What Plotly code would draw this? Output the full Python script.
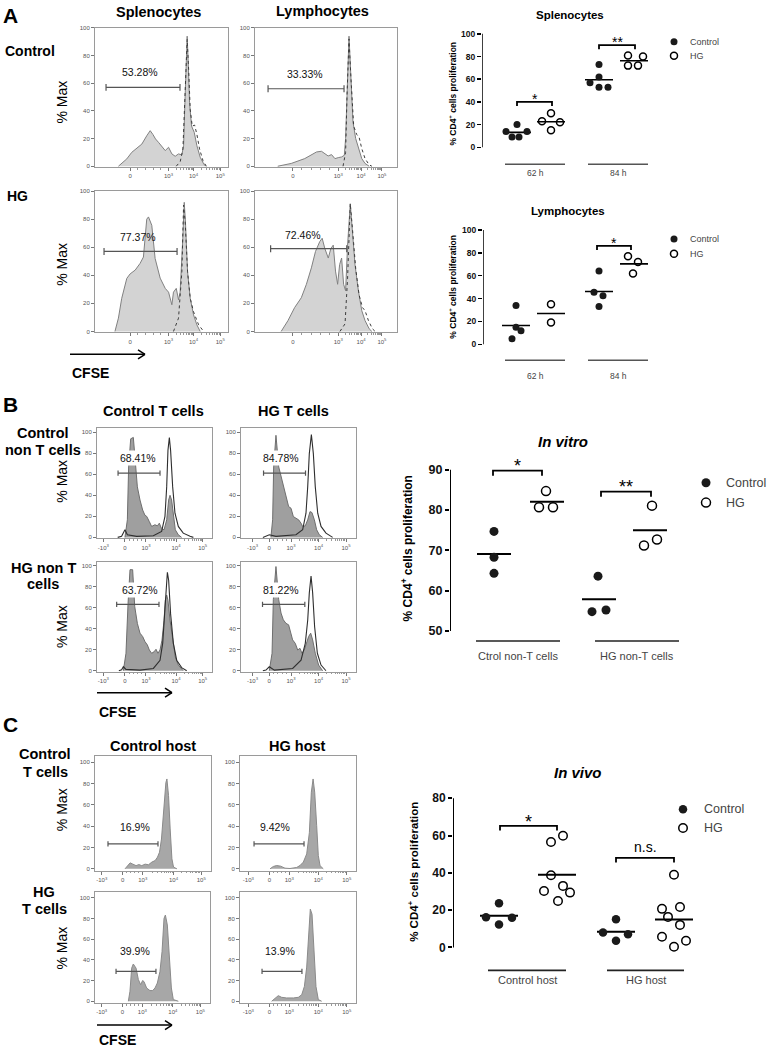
import math
import plotly.graph_objects as go

W, H = 771, 1050
FONT = "Liberation Sans, Arial, sans-serif"

# ================= DATA =================
# Flow cytometry histograms: x = display channel (0-100 across the plot), y = % Max
A11_fill_x = [17.6, 21.4, 23.9, 27.6, 31.4, 35.2, 38.9, 41.5, 43.5, 45.5, 47.7, 50.3, 52.8, 55.3, 57.8, 60.3, 62.8, 65.3, 66.6, 67.6, 68.6, 69.3, 70.1, 71.1, 72.6, 74.6, 76.6, 79.1, 81.7, 83.2]
A11_fill_y = [0, 2.9, 5.3, 10, 13, 16, 22, 25.7, 23, 19.7, 17.3, 14.4, 11.3, 13.7, 8.9, 7.2, 8.9, 8.2, 14.9, 46, 82, 94, 75, 46, 29, 24.5, 14.9, 6.5, 1.7, 0]
A11_out_x = [61.1, 64.1, 66.1, 67.3, 68.3, 69.3, 70.4, 71.6, 73.1, 74.9, 76.6, 78.6, 81.2, 83.7]
A11_out_y = [0, 3.4, 12.5, 41, 77, 91.6, 70, 41, 29, 29.7, 23, 12.5, 4, 0]

A12_fill_x = [16, 25.5, 35, 39.7, 43.3, 46.8, 49, 51.5, 53.9, 56.3, 58.6, 61, 62.9, 63.8, 64.8, 66.2, 67.6, 69, 70.9, 72.8, 75.2, 77.5, 80.4]
A12_fill_y = [0, 2, 5.5, 8, 10.3, 10.8, 9, 7.4, 8.4, 5.5, 6.2, 6.7, 7.9, 20, 51, 94, 63, 32, 20, 12.7, 5.5, 2, 0]
A12_out_x = [62, 63.8, 64.8, 66.2, 67.6, 69.5, 71.6, 73.3, 75.2, 77.5, 80.4, 82.3]
A12_out_y = [0, 10, 51, 92, 63, 29, 23, 21, 12.7, 5.5, 1, 0]

A21_fill_x = [15, 17.6, 20.1, 23.9, 26.4, 30.2, 33.9, 36.4, 38.9, 40.2, 42.7, 45.2, 49, 52.8, 55.3, 57.8, 59, 61.1, 62.8, 64, 66, 67.1, 68, 69.6, 71.6, 74.1, 76.6, 79.1]
A21_fill_y = [0, 9.5, 23.6, 37.8, 41, 43.7, 48.5, 53, 80, 81.6, 75.6, 52, 38, 30.7, 28, 19, 28, 30.7, 22.5, 28, 66, 92, 78, 42.5, 23.6, 11.8, 4.7, 0]
A21_out_x = [59, 62.8, 65.3, 66.6, 67.8, 69.6, 71.6, 74.1, 77.9, 81.7]
A21_out_y = [0, 9.5, 42.5, 90, 78, 42.5, 23.6, 14, 4.7, 0]

A22_fill_x = [18.4, 23.2, 27.9, 32.6, 36.2, 39.7, 42.6, 45.6, 47.3, 49.2, 51.6, 53.4, 55.1, 56.7, 58.2, 59.6, 61, 62.4, 63.8, 65.2, 67.1, 68.6, 70.4, 72.8, 75.2, 77.5, 80.4, 82.3]
A22_fill_y = [0, 7.7, 17, 24, 33.6, 45.3, 57, 64, 66.4, 59, 52.3, 59, 61.5, 43, 33.6, 47.7, 52.3, 33.6, 29, 61.5, 91, 73.5, 47.7, 29, 14.8, 7.7, 1.9, 0]
A22_out_x = [59.8, 63.4, 65.2, 67.1, 68.6, 70.9, 73.3, 75.7, 77.5, 79.9, 82.7, 84.6]
A22_out_y = [0, 5.4, 38, 91, 73.5, 45, 26, 17, 14.8, 7.7, 1.9, 0]

B11_fill_x = [24.3, 26.4, 27.5, 29.3, 31.6, 33.3, 35.1, 37.4, 39.7, 41.7, 43.2, 45.5, 47.5, 50.4, 52.5, 54.2, 55.9, 58.3, 60.6, 62.3, 63.5, 64.9, 66.4, 68.1, 70.7, 73.6]
B11_fill_y = [0, 16.7, 67, 93.7, 95, 67, 48, 35.5, 26, 21, 20, 15, 10.4, 12, 11, 13.5, 8.8, 7.2, 16.7, 35.5, 40, 35.5, 20, 7.2, 2.5, 0]
B11_out_x = [18, 21.4, 24.3, 26.4, 34.5, 49, 56.2, 59.1, 60.6, 61.7, 62.9, 64, 65.8, 67.8, 70.7, 75, 80.9, 83.8]
B11_out_y = [0, 1, 7.2, 2.5, 1, 1.6, 5.7, 20, 48, 82.7, 95, 82.7, 48, 23, 10.4, 4, 1, 0]

B12_fill_x = [26, 27.5, 28.4, 30.4, 32.8, 34.8, 36.8, 39.1, 41.4, 43.5, 45.5, 47.8, 50.1, 52.2, 53.6, 55.9, 58, 60, 61.7, 63.8, 65.8, 68.1, 71]
B12_fill_y = [0, 16.7, 67, 97, 67, 57.5, 48, 38.7, 29.3, 27.7, 19.8, 18.2, 16.7, 13.5, 10.4, 11, 16.7, 24.5, 23.6, 16.7, 7.2, 2.5, 0]
B12_out_x = [19, 21.7, 24.6, 30.4, 47.8, 53.6, 56.5, 58, 59.4, 61.2, 62.9, 64.6, 66.7, 69.6, 73.9, 79.7]
B12_out_y = [0, 1, 2.5, 1, 2.5, 7.2, 23, 48, 79.6, 97.8, 79.6, 48, 23, 10.4, 4, 0]

B21_fill_x = [22.9, 25.2, 27, 28.7, 31, 32.8, 35.1, 37.4, 39.7, 41.7, 43.8, 45.5, 47.5, 49.6, 51.3, 53, 54.8, 56.5, 58.3, 59.4, 60.6, 61.7, 63.5, 65.8, 68.1, 70.7, 75]
B21_fill_y = [0, 16.6, 64, 96, 96, 61, 45, 35.7, 32.5, 27.7, 24.5, 19.7, 16.6, 18, 20.4, 16.6, 19.7, 29, 48, 67, 72, 67, 48, 29, 13, 5.4, 0]
B21_out_x = [19, 21.4, 22.9, 25.2, 37.4, 49, 54.8, 57.1, 58.8, 60, 61.2, 62.3, 64, 66.4, 69.3, 73.6, 78]
B21_out_y = [0, 1, 3.8, 1.3, 0.6, 2.2, 10, 26, 54, 80, 93.6, 86, 54, 26, 10, 3, 0]

B22_fill_x = [24.6, 27, 28.1, 30.4, 32.8, 34.8, 36.8, 39.1, 41.4, 43.2, 44.9, 47.2, 49.3, 51.3, 53, 55, 57.1, 58.8, 60.6, 62.3, 64.6, 67.5, 71]
B22_fill_y = [0, 16.6, 67.5, 99, 67.5, 54.8, 48.4, 45, 43.6, 35.7, 29.3, 26, 19.7, 21.3, 16.6, 19.7, 26, 32.5, 35.7, 29.3, 16.6, 5.4, 0]
B22_out_x = [19, 21.7, 24.6, 29, 44.9, 52.2, 55.9, 58, 59.4, 60.9, 62.3, 64, 66.4, 69.6, 73.9]
B22_out_y = [0, 0.6, 3.8, 0.6, 2.2, 10, 26, 48, 74, 90, 74, 42, 16.6, 5.4, 0]

C11_fill_x = [25.9, 28, 30.3, 32.6, 35.4, 37.8, 40.3, 43.2, 46.1, 49, 51.9, 53.9, 55.6, 57.3, 59.1, 61.1, 62, 63.4, 64.8, 66.3, 67.7, 70.6]
C11_fill_y = [0, 3, 5.6, 4.4, 3, 4, 3, 4.4, 3.8, 6.3, 7.8, 11, 15.6, 28, 53, 81, 84.4, 68.8, 37.5, 9.4, 1.6, 0]
C12_fill_x = [25.9, 28.7, 31.6, 35, 38.8, 43.1, 48.9, 51.7, 54.6, 57.5, 59.8, 61.5, 63, 64.4, 66.1, 67.5, 69, 71.8]
C12_fill_y = [0, 2.2, 3.1, 2.5, 0.6, 0.3, 1.3, 3.1, 6.3, 14, 34, 72, 84.4, 72, 40.6, 12.5, 3, 0]
C21_fill_x = [29, 30.4, 31.9, 33.3, 35.7, 37.7, 39.7, 41.4, 42.6, 44.9, 47.8, 50.1, 52.2, 54.2, 56.5, 58.3, 60, 61.2, 62.9, 64.6, 66.4, 68.1, 72.5]
C21_fill_y = [0, 9.6, 32, 36, 32, 21, 16, 20, 19, 12.8, 10.3, 10.3, 12.8, 17.6, 28.8, 48, 80, 83.3, 73.7, 44.9, 12.8, 1.6, 0]
C22_fill_x = [27.3, 30.2, 33, 35.9, 40.2, 46, 50.3, 53.2, 55.5, 57.5, 59.2, 60.6, 62.1, 63.8, 65.5, 67.5, 70.4]
C22_fill_y = [0, 3.2, 5.4, 3.8, 3.2, 3.2, 3.8, 6.3, 14.3, 33, 65, 89, 84, 49, 14.3, 1.6, 0]

# Gate percentages
A_pct = ["53.28%", "33.33%", "77.37%", "72.46%"]
B_pct = ["68.41%", "84.78%", "63.72%", "81.22%"]
C_pct = ["16.9%", "9.42%", "39.9%", "13.9%"]

# Tick labels
hist_yticks = [0, 20, 40, 60, 80, 100]
A_xtick_text = ["0", "10<sup>3</sup>", "10<sup>4</sup>", "10<sup>5</sup>"]
BC_xtick_text = ["-10<sup>3</sup>", "0", "10<sup>3</sup>", "10<sup>4</sup>", "10<sup>5</sup>"]

# Proliferation scatter values (% CD4+ cells proliferation)
spl_cats = ["62 h", "84 h"]
spl_62_ctrl = [14, 20, 14, 9, 9]
spl_62_hg = [30, 23, 22, 15]
spl_84_ctrl = [73, 62, 57, 53, 53]
spl_84_hg = [81, 80, 72, 72]

lym_cats = ["62 h", "84 h"]
lym_62_ctrl = [34, 15, 12, 5]
lym_62_hg = [35, 19]
lym_84_ctrl = [64, 45.5, 42.5, 33]
lym_84_hg = [77, 72, 62]

vitro_cats = ["Ctrol non-T cells", "HG non-T cells"]
vitro_c_ctrl = [74.7, 68.3, 64.3]
vitro_c_hg = [84.7, 80.7, 80.7]
vitro_h_ctrl = [63.6, 54.8, 55.2]
vitro_h_hg = [81.1, 71.2, 72.7]

vivo_cats = ["Control host", "HG host"]
vivo_c_ctrl = [23.7, 16.2, 15.9, 12.3]
vivo_c_hg = [59.9, 56.5, 38.7, 33, 30.3, 29.4, 24.9]
vivo_h_ctrl = [15.1, 8, 7.1, 3.6]
vivo_h_hg = [39, 20.7, 21.7, 16.4, 12.1, 5.7, 3.6, 0.4]

legend_names = ["Control", "HG"]

# ================= LAYOUT HELPERS =================
fig = go.Figure()
layout = {}
shapes = []
annots = []
counter = [0]


def refs(i):
    return ("x" if i == 1 else f"x{i}"), ("y" if i == 1 else f"y{i}")


def lkeys(i):
    return ("xaxis" if i == 1 else f"xaxis{i}"), ("yaxis" if i == 1 else f"yaxis{i}")


def text(px, py, s, size, color="black", xanchor="center", yanchor="middle", angle=0):
    annots.append(dict(x=px / W, y=1 - py / H, xref="paper", yref="paper", text=s,
                       showarrow=False, textangle=angle, xanchor=xanchor, yanchor=yanchor,
                       font=dict(family=FONT, size=size, color=color)))


def pline(x0, y0, x1, y1, color="black", width=1.5):
    shapes.append(dict(type="line", xref="paper", yref="paper", x0=x0 / W, y0=1 - y0 / H,
                       x1=x1 / W, y1=1 - y1 / H, line=dict(color=color, width=width)))


def arrow(x0, x1, y):
    pline(x0, y, x1, y, "black", 1.5)
    pline(x1 - 7, y - 4.5, x1, y, "black", 1.5)
    pline(x1 - 7, y + 4.5, x1, y, "black", 1.5)


def minor_vals(pos):
    vals = []
    for a, b in zip(pos[-3:-1], pos[-2:]):
        for k in range(2, 10):
            vals.append(a + (b - a) * math.log10(k))
    a, b = pos[-4], pos[-3]
    for k in range(1, 5):
        vals.append(a + (b - a) * k / 5)
    return vals


def add_hist(box, yr, xt_pos, xt_text, fx, fy, ox, oy, style, gate, gy, pct, tpos, tbg):
    counter[0] += 1
    i = counter[0]
    xr, yrf = refs(i)
    xk, yk = lkeys(i)
    x0, x1, y0, y1 = box
    layout[xk] = dict(domain=[x0 / W, x1 / W], range=[0, 100], anchor=yrf, showgrid=False,
                      zeroline=False, showline=True, mirror=True, linecolor="#9a9a9a", linewidth=1,
                      ticks="outside", ticklen=3, tickcolor="#777", tickvals=xt_pos, ticktext=xt_text,
                      tickfont=dict(family=FONT, size=6, color="#555"),
                      minor=dict(tickvals=minor_vals(xt_pos), ticklen=1.5, tickcolor="#999", ticks="outside"))
    layout[yk] = dict(domain=[1 - y1 / H, 1 - y0 / H], range=yr, anchor=xr, showgrid=False,
                      zeroline=False, showline=True, mirror=True, linecolor="#9a9a9a", linewidth=1,
                      ticks="outside", ticklen=3, tickcolor="#777", tickvals=hist_yticks,
                      tickfont=dict(family=FONT, size=6, color="#555"))
    fill, edge, ocol, odash, owidth = style
    fig.add_trace(go.Scatter(x=fx, y=fy, mode="lines", fill="tozeroy", fillcolor=fill,
                             line=dict(color=edge, width=1), xaxis=xr, yaxis=yrf,
                             hoverinfo="skip", showlegend=False))
    if ox is not None:
        fig.add_trace(go.Scatter(x=ox, y=oy, mode="lines", line=dict(color=ocol, width=owidth, dash=odash),
                                 xaxis=xr, yaxis=yrf, hoverinfo="skip", showlegend=False))
    g0, g1 = gate
    for (a, b, c, d) in [(g0, gy, g1, gy), (g0, gy - 2.5, g0, gy + 2.5), (g1, gy - 2.5, g1, gy + 2.5)]:
        shapes.append(dict(type="line", xref=xr, yref=yrf, x0=a, y0=b, x1=c, y1=d,
                           line=dict(color="#555", width=1.2)))
    a = dict(x=tpos[0], y=tpos[1], xref=xr, yref=yrf, text=pct, showarrow=False,
             font=dict(family=FONT, size=10.5, color="#111"), xanchor="center", yanchor="middle")
    if tbg:
        a.update(bgcolor="white", borderpad=1)
    annots.append(a)


A_style = ("#d3d3d3", "#808080", "#3c3c3c", "dot", 1)
B_style = ("#9f9f9f", "#6e6e6e", "#2e2e2e", "solid", 1.1)
C_style = ("#a7a7a7", "#8a8a8a", None, None, 1)

A_c1_ticks = [26.4, 55.3, 74.1, 94.2]
A_c2_ticks = [26.7, 58.6, 74.7, 89.4]
B_c1_ticks = [5.5, 24.3, 42.6, 68.7, 91.9]
B_c2_ticks = [10, 24.6, 43.5, 67.5, 91.3]
C_c1_ticks = [5.8, 23.9, 41.2, 67.7, 91.6]
C_c2_ticks = [7.2, 25.3, 42.5, 67.5, 92]

# Panel A histograms
add_hist((95, 228, 25, 165), [-0.72, 100], A_c1_ticks, A_xtick_text, A11_fill_x, A11_fill_y, A11_out_x, A11_out_y,
         A_style, (8.3, 63.9), 57, A_pct[0], (33.8, 68), False)
add_hist((255, 397, 25, 165), [-0.72, 100], A_c2_ticks, A_xtick_text, A12_fill_x, A12_fill_y, A12_out_x, A12_out_y,
         A_style, (9.2, 62.7), 56, A_pct[1], (35.2, 67), False)
add_hist((95, 228, 189, 331), [-0.7, 100], A_c1_ticks, A_xtick_text, A21_fill_x, A21_fill_y, A21_out_x, A21_out_y,
         A_style, (6.8, 61.7), 57, A_pct[2], (32.3, 67), False)
add_hist((255, 397, 189, 331), [-0.7, 100], A_c2_ticks, A_xtick_text, A22_fill_x, A22_fill_y, A22_out_x, A22_out_y,
         A_style, (11, 64.6), 59, A_pct[3], (33.8, 68.8), False)
# Panel B histograms
add_hist((97, 212, 427, 538), [-1, 104], B_c1_ticks, BC_xtick_text, B11_fill_x, B11_fill_y, B11_out_x, B11_out_y,
         B_style, (18.3, 54.8), 61, B_pct[0], (35.7, 75), True)
add_hist((241, 356, 427, 538), [-1, 104], B_c2_ticks, BC_xtick_text, B12_fill_x, B12_fill_y, B12_out_x, B12_out_y,
         B_style, (19.6, 56.1), 61, B_pct[1], (34.8, 75), True)
add_hist((97, 212, 562, 672), [-1, 103], B_c1_ticks, BC_xtick_text, B21_fill_x, B21_fill_y, B21_out_x, B21_out_y,
         B_style, (17.1, 53.9), 63, B_pct[2], (37.4, 77), True)
add_hist((241, 356, 562, 672), [-1, 103], B_c2_ticks, BC_xtick_text, B22_fill_x, B22_fill_y, B22_out_x, B22_out_y,
         B_style, (18.7, 55.5), 63, B_pct[3], (34.8, 77), True)
# Panel C histograms
add_hist((95, 211, 757, 872), [-1.9, 105.6], C_c1_ticks, BC_xtick_text, C11_fill_x, C11_fill_y, None, None,
         C_style, (11.2, 54.3), 23.4, C_pct[0], (34.5, 39), False)
add_hist((240, 356, 757, 872), [-1.9, 105.6], C_c2_ticks, BC_xtick_text, C12_fill_x, C12_fill_y, None, None,
         C_style, (12.1, 55.2), 23.4, C_pct[1], (30.2, 39), False)
add_hist((95, 210, 893, 1005), [-1.9, 105.8], C_c1_ticks, BC_xtick_text, C21_fill_x, C21_fill_y, None, None,
         C_style, (18.3, 53), 28.8, C_pct[2], (34.8, 49), False)
add_hist((240, 356, 893, 1005), [-1.9, 105.8], C_c2_ticks, BC_xtick_text, C22_fill_x, C22_fill_y, None, None,
         C_style, (19, 53.4), 28.8, C_pct[3], (34.5, 49), False)


# ================= SCATTER PANELS =================
def add_scatter(xpx, ypx, yr, yticks, axis_span, tick_size, groups, centers, offsets, msize, half, mean_w,
                brackets, star_size, cat_lines, cat_y, cat_label_y, cat_labels, cat_size, cat_color, legend, leg_size,
                title, title_pos, title_size, ytitle_pos, ytitle_size, tick_w):
    counter[0] += 1
    i = counter[0]
    xr, yrf = refs(i)
    xk, yk = lkeys(i)
    layout[xk] = dict(domain=[xpx[0] / W, xpx[1] / W], range=[xpx[0], xpx[1]], anchor=yrf, visible=False)
    layout[yk] = dict(domain=[1 - ypx[1] / H, 1 - ypx[0] / H], range=yr, anchor=xr, showgrid=False,
                      zeroline=False, showline=False, ticks="outside", ticklen=4, tickwidth=tick_w,
                      tickcolor="black", tickvals=yticks,
                      tickfont=dict(family=FONT, size=tick_size, color="#111", weight="bold"))

    def val(py):
        return yr[1] - (py - ypx[0]) * (yr[1] - yr[0]) / (ypx[1] - ypx[0])

    shapes.append(dict(type="line", xref=xr, yref=yrf, x0=xpx[0], x1=xpx[0], y0=axis_span[0], y1=axis_span[1],
                       line=dict(color="black", width=tick_w)))
    for k, (vals, c, offs) in enumerate(zip(groups, centers, offsets)):
        m = sum(vals) / len(vals)
        fig.add_trace(go.Scatter(x=[c - half, c + half], y=[m, m], mode="lines",
                                 line=dict(color="black", width=mean_w), xaxis=xr, yaxis=yrf,
                                 hoverinfo="skip", showlegend=False))
        hg = (k % 2 == 1)
        fig.add_trace(go.Scatter(x=[c + o for o in offs], y=vals, mode="markers", xaxis=xr, yaxis=yrf,
                                 marker=dict(symbol="circle-open" if hg else "circle", size=msize,
                                             color="black" if hg else "#1a1a1a",
                                             line=dict(width=1.5 if hg else 0, color="black")),
                                 hoverinfo="skip", showlegend=False))
    for (bx0, bx1, by, drop, s, ys) in brackets:
        shapes.append(dict(type="path", xref=xr, yref=yrf,
                           path=f"M {bx0},{by - drop} L {bx0},{by} L {bx1},{by} L {bx1},{by - drop}",
                           line=dict(color="black", width=1.8)))
        annots.append(dict(x=(bx0 + bx1) / 2, y=by, xref=xr, yref=yrf, text=s, showarrow=False,
                           xanchor="center", yanchor="bottom", yshift=ys,
                           font=dict(family=FONT, size=star_size if s != "n.s." else star_size - 4, color="black")))
    for (lx0, lx1), lab in zip(cat_lines, cat_labels):
        pline(lx0, cat_y, lx1, cat_y, cat_color, 1.6)
        text((lx0 + lx1) / 2, cat_label_y, lab, cat_size, color="#444")
    (lmx, lmy0, lmy1, ltx) = legend
    for k, ly in enumerate([lmy0, lmy1]):
        hg = (k == 1)
        fig.add_trace(go.Scatter(x=[lmx], y=[val(ly)], mode="markers", xaxis=xr, yaxis=yrf,
                                 marker=dict(symbol="circle-open" if hg else "circle", size=msize,
                                             color="black" if hg else "#1a1a1a",
                                             line=dict(width=1.5 if hg else 0, color="black")),
                                 hoverinfo="skip", showlegend=False, cliponaxis=False))
        text(ltx, ly, legend_names[k], leg_size, color="#444", xanchor="left")
    text(title_pos[0], title_pos[1], title, title_size)
    text(ytitle_pos[0], ytitle_pos[1], "<b>% CD4<sup>+</sup> cells proliferation</b>", ytitle_size, angle=-90)


add_scatter((482, 771), (20, 170), [-21.93, 109.65], [0, 20, 40, 60, 80, 100], [0, 100], 8.5,
            [spl_62_ctrl, spl_62_hg, spl_84_ctrl, spl_84_hg], [517, 551, 599, 634],
            [[-11, 0, 10, -5, 2], [0, -9, 9, 0], [0, 0, -9, 0, 9], [-6, 9, -6, 4]], 7, 14, 1.6,
            [(517, 552, 40, 3.5, "*", -7), (599, 635, 90, 3.5, "**", -7)], 14,
            [(505, 565), (588, 648)], 162, 171, spl_cats, 8.5, "#555",
            (674, 39, 53, 688), 9, "<b>Splenocytes</b>", (570, 12), 11.5, (453, 91), 8.5, 1.5)

add_scatter((483, 771), (215, 370), [-23.48, 111.3], [0, 20, 40, 60, 80, 100], [0, 100], 8.5,
            [lym_62_ctrl, lym_62_hg, lym_84_ctrl, lym_84_hg], [516, 551, 599, 634],
            [[0, 0, 5, -4], [0, 0], [0, -5, 4, 0], [-6, 4, -1]], 7, 14, 1.6,
            [(597, 631, 86, 3.5, "*", -7)], 14,
            [(505, 565), (588, 648)], 359, 375, lym_cats, 8.5, "#555",
            (674, 237, 252, 688), 9, "<b>Lymphocytes</b>", (568, 209), 11.5, (453, 285), 8.5, 1.5)

add_scatter((450, 771), (430, 665), [41.6, 99.63], [50, 60, 70, 80, 90], [50, 90], 12.5,
            [vitro_c_ctrl, vitro_c_hg, vitro_h_ctrl, vitro_h_hg], [494, 547, 599, 650],
            [[0, 0, 0], [-1, -8, 6], [-1, -7, 7], [2, -6, 7]], 9, 17, 2,
            [(493, 542, 89.8, 1.3, "*", -7), (601, 651, 84.6, 1.3, "**", -7)], 18,
            [(476, 560), (595, 679)], 641, 656, vitro_cats, 11, "#222",
            (706, 482, 502, 724), 12.5, "<b><i>In vitro</i></b>", (563, 441), 15, (407, 548), 12, 2)

add_scatter((453, 771), (780, 990), [-21.87, 90.13], [0, 20, 40, 60, 80], [0, 80], 12,
            [vivo_c_ctrl, vivo_c_hg, vivo_h_ctrl, vivo_h_hg], [499, 557, 616, 674],
            [[0, -13, 13, 0], [6, -6, -6, 6, -13, 13, 1], [0, -13, 12, 0], [0, -12, 6, -6, 6, -12, 12, 0]],
            8.5, 19, 2,
            [(500, 557, 65.2, 2.5, "*", -8), (616, 674, 48, 2.5, "n.s.", 1)], 18,
            [(488, 566), (607, 684)], 972, 982, vivo_cats, 11, "#222",
            (683, 810, 829, 702), 12.5, "<b><i>In vivo</i></b>", (578, 773), 15, (413, 873), 11.5, 2)

# ================= PANEL LABELS & TEXT =================
B = lambda s: f"<b>{s}</b>"
text(10, 13, B("A"), 21)
text(10, 403, B("B"), 21)
text(10, 725, B("C"), 21)

text(158, 9, B("Splenocytes"), 14.5)
text(322, 8, B("Lymphocytes"), 14.5)
text(3, 48, B("Control"), 14, xanchor="left")
text(5, 194, B("HG"), 14, xanchor="left")
text(62, 100, "% Max", 14, angle=-90)
text(62, 263, "% Max", 14, angle=-90)
arrow(70, 145, 353)
text(70, 372, B("CFSE"), 14, xanchor="left")

text(153, 410, B("Control T cells"), 14.5)
text(293, 410, B("HG T cells"), 14.5)
text(43, 432, B("Control"), 14.5)
text(43, 449, B("non T cells"), 14.5)
text(62, 481, "% Max", 14, angle=-90)
text(43, 568, B("HG non T"), 14.5)
text(43, 584, B("cells"), 14.5)
text(62, 627, "% Max", 14, angle=-90)
arrow(97, 172, 693)
text(97, 712, B("CFSE"), 14, xanchor="left")

text(153, 747, B("Control host"), 14.5)
text(297, 747, B("HG host"), 14.5)
text(45, 755, B("Control"), 14.5)
text(45, 773, B("T cells"), 14.5)
text(62, 811, "% Max", 14, angle=-90)
text(44, 893, B("HG"), 14.5)
text(44, 910, B("T cells"), 14.5)
text(62, 950, "% Max", 14, angle=-90)
arrow(97, 172, 1027)
text(97, 1042, B("CFSE"), 14, xanchor="left")

fig.update_layout(width=W, height=H, margin=dict(l=0, r=0, t=0, b=0), paper_bgcolor="white",
                  plot_bgcolor="white", showlegend=False, shapes=shapes, annotations=annots,
                  font=dict(family=FONT), **layout)
fig.write_html("out.html", config={"displayModeBar": False, "staticPlot": True},
               post_script="document.body.style.margin='0px';document.body.style.overflow='hidden';")
